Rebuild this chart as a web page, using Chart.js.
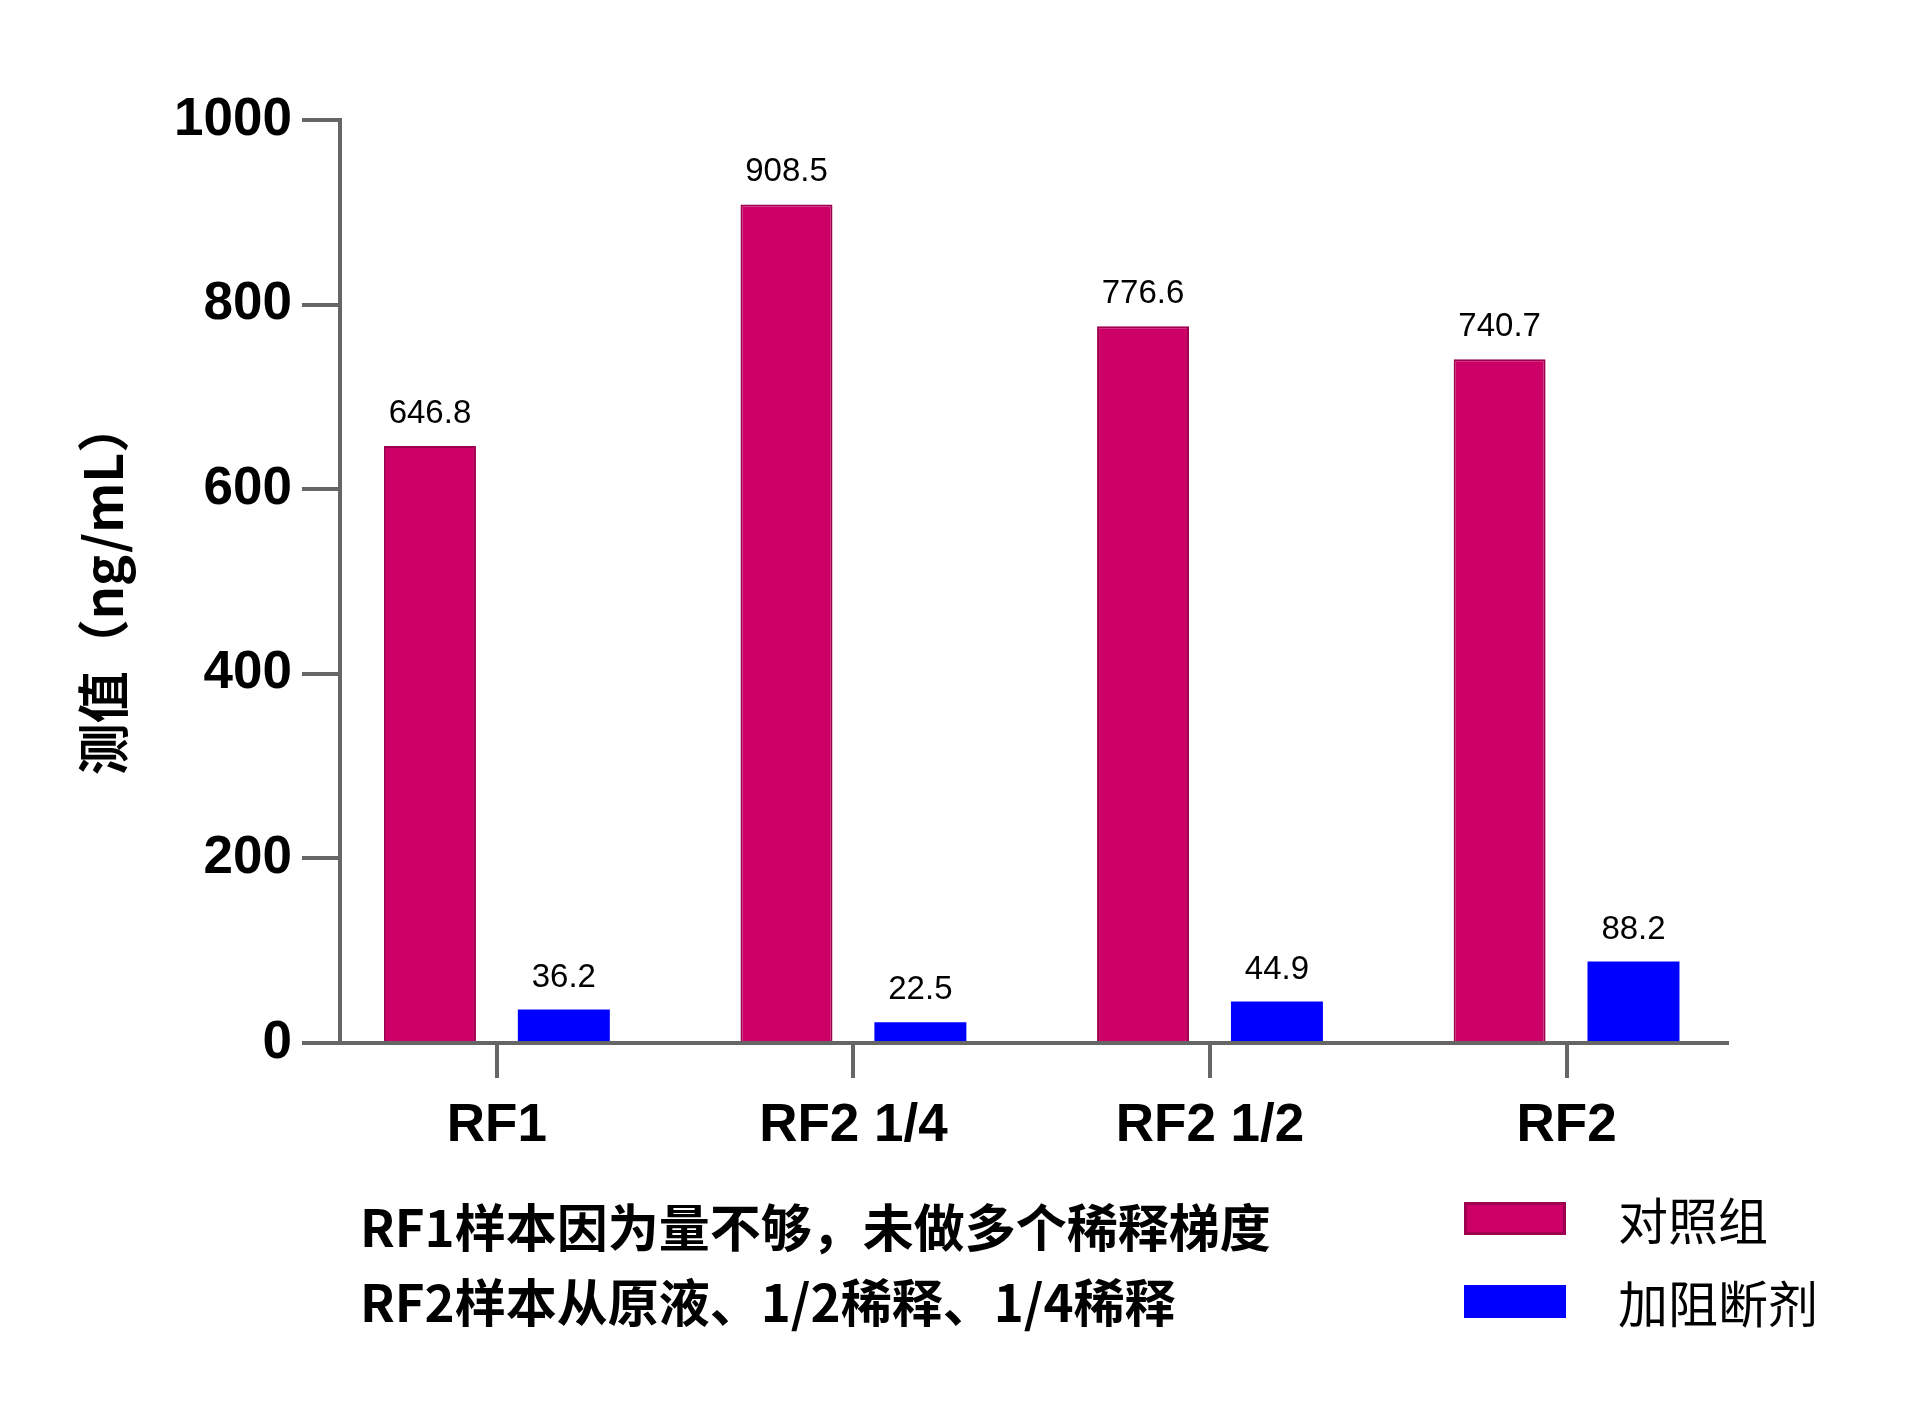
<!DOCTYPE html>
<html><head><meta charset="utf-8">
<script src="https://cdn.jsdelivr.net/npm/chart.js@4"></script>
<style>html,body{margin:0;padding:0;background:#fff}canvas{display:block}</style>
</head><body>
<canvas id="c" width="1920" height="1404"></canvas>
<script>
const categories = ['RF1', 'RF2 1/4', 'RF2 1/2', 'RF2'];
const controlValues = [646.8, 908.5, 776.6, 740.7];
const blockerValues = [36.2, 22.5, 44.9, 88.2];
const seriesNames = ['对照组', '加阻断剂'];
const yTickValues = [0, 200, 400, 600, 800, 1000];
const yTitle = '测值（ng/mL）';
const noteLines = ['RF1样本因为量不够，未做多个稀释梯度', 'RF2样本从原液、1/2稀释、1/4稀释'];

const RED = '#CC0066', RED_BORDER = '#9E004F', BLUE = '#0000FF';
const AXIS = '#666666';
const CJK = '"Noto Sans CJK SC", "Noto Sans", sans-serif';

const valueLabels = {
  id: 'valueLabels',
  afterDatasetsDraw(chart) {
    const ctx = chart.ctx;
    ctx.save();
    ctx.font = '33px "Liberation Sans", Arial, sans-serif';
    ctx.fillStyle = '#000';
    ctx.textAlign = 'center';
    ctx.textBaseline = 'alphabetic';
    chart.data.datasets.forEach((ds, di) => {
      chart.getDatasetMeta(di).data.forEach((bar, i) => {
        ctx.fillText(ds.data[i].y.toFixed(1), bar.x, bar.y - 23);
      });
    });
    ctx.restore();
  }
};

const extras = {
  id: 'extras',
  afterDraw(chart) {
    const ctx = chart.ctx;
    // y title
    ctx.save();
    ctx.translate(103, 588);
    ctx.rotate(-Math.PI / 2);
    ctx.font = 'bold 52px ' + CJK;
    ctx.fillStyle = '#000';
    ctx.textAlign = 'center';
    ctx.textBaseline = 'middle';
    ctx.fillText(yTitle, 0, 0);
    ctx.restore();
    // legend
    ctx.save();
    const rows = [1219, 1302];
    chart.data.datasets.forEach((ds, i) => {
      const cy = rows[i];
      ctx.fillStyle = ds.backgroundColor;
      ctx.fillRect(1464, cy - 17, 102, 33);
      if (i === 0) {
        ctx.strokeStyle = RED_BORDER;
        ctx.lineWidth = 3;
        ctx.strokeRect(1465.5, cy - 15.5, 99, 30);
      }
      ctx.fillStyle = '#000';
      ctx.font = '50px ' + CJK;
      ctx.textAlign = 'left';
      ctx.textBaseline = 'middle';
      ctx.fillText(ds.label, 1618, cy + 2);
    });
    ctx.restore();
    // notes
    ctx.save();
    ctx.fillStyle = '#000';
    ctx.font = 'bold 51px ' + CJK;
    ctx.textAlign = 'left';
    ctx.textBaseline = 'middle';
    ctx.fillText(noteLines[0], 360, 1228);
    ctx.fillText(noteLines[1], 360, 1303);
    ctx.restore();
  }
};

const chart = new Chart(document.getElementById('c'), {
  type: 'bar',
  data: {
    datasets: [
      { label: seriesNames[0], data: controlValues.map((v, i) => ({ x: i, y: v })),
        backgroundColor: RED, borderColor: RED_BORDER, borderWidth: 2 },
      { label: seriesNames[1], data: blockerValues.map((v, i) => ({ x: i, y: v })),
        backgroundColor: BLUE, borderColor: BLUE, borderWidth: 0 }
    ]
  },
  options: {
    responsive: false,
    animation: false,
    devicePixelRatio: 1,
    categoryPercentage: 0.751,
    barPercentage: 0.687,
    layout: { padding: { left: 0, top: 120, right: 193, bottom: 0 } },
    plugins: { legend: { display: false }, tooltip: { enabled: false } },
    scales: {
      x: {
        type: 'linear',
        min: -0.44,
        max: 3.45,
        offset: false,
        afterBuildTicks(scale) {
          scale.ticks = categories.map((c, i) => ({ value: i }));
        },
        afterFit(scale) { scale.height = 1404 - 1043; },
        grid: { offset: false, drawOnChartArea: false, drawTicks: true, tickLength: 35, tickWidth: 4, color: AXIS, lineWidth: 4 },
        border: { display: true, color: AXIS, width: 4 },
        ticks: {
          autoSkip: false, maxRotation: 0,
          padding: 17,
          color: '#000',
          font: { family: '"Liberation Sans", Arial, sans-serif', size: 53, weight: 'bold', lineHeight: 1.2 },
          callback: (v) => categories[v]
        }
      },
      y: {
        min: 0, max: 1000,
        afterBuildTicks(scale) { scale.ticks = yTickValues.map(v => ({ value: v })); },
        afterFit(scale) { scale.width = 340; },
        grid: { drawOnChartArea: false, drawTicks: true, tickLength: 38, tickWidth: 4, color: AXIS, lineWidth: 4 },
        border: { display: true, color: AXIS, width: 4 },
        ticks: {
          padding: 10,
          color: '#000',
          font: { family: '"Liberation Sans", Arial, sans-serif', size: 53, weight: 'bold' },
          callback: (v) => String(v)
        }
      }
    }
  },
  plugins: [valueLabels, extras]
});
</script>
</body></html>
